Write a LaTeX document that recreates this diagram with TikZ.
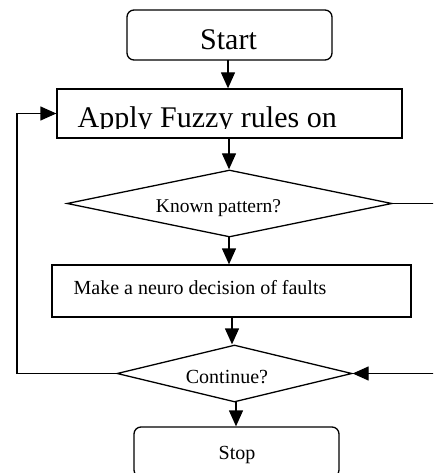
\documentclass[tikz,border=0pt]{standalone}
\usepackage{fontspec}
\setmainfont{Liberation Serif}
\usetikzlibrary{shapes.geometric,arrows.meta}
\begin{document}
\begin{tikzpicture}[x=1pt,y=-1pt,line width=1.3pt,
  box/.style={draw, rectangle, inner sep=0pt},
  term/.style={box, rounded corners=7pt},
  dia/.style={draw, diamond, inner sep=0pt, aspect=4.8},
  lbl/.style={inner sep=0pt, anchor=base},
  lblw/.style={inner sep=0pt, anchor=base west},
  big/.style={font=\fontsize{30}{36}\selectfont},
  small/.style={font=\fontsize{20}{24}\selectfont},
  arr/.style={-{Triangle[length=16pt,width=14pt]}}]
\useasboundingbox (0,0) rectangle (433,473);
\clip (0,0) rectangle (433,473);
% nodes
\node[term, minimum width=205pt, minimum height=50pt] (start) at (229.5,35) {};
\node[lbl, big] (startt) at (228.5,50) {Start};
\node[box, minimum width=345pt, minimum height=49pt] (apply) at (229.5,113.5) {};
\begin{scope}
  \clip (0,0) rectangle (433,129);
  \node[lblw, big] (applyt) at (77,128) {Apply Fuzzy rules on};
\end{scope}
\node[dia, minimum width=325pt, minimum height=67pt] (known) at (229.5,203.5) {};
\node[lbl, font=\fontsize{19.5}{23}\selectfont] (knownt) at (218.5,212) {Known pattern?};
\node[box, minimum width=359pt, minimum height=52pt] (make) at (231.5,291) {};
\node[lblw, small] (maket) at (73,294) {Make a neuro decision of faults};
\node[dia, minimum width=235pt, minimum height=57pt] (cont) at (234.5,373.5) {};
\node[lbl, small] (contt) at (227,383) {Continue?};
\node[term, minimum width=205pt, minimum height=50pt] (stop) at (236.5,452) {};
\node[lbl, small] (stopt) at (237,459) {Stop};
\coordinate (lx) at (17,0);
\coordinate (rx) at (445,0);
% connectors
\draw[arr] (228,60) coordinate (s1) -- (s1 |- apply.north);
\draw[arr] (229,138) coordinate (a1) -- (a1 |- known.north);
\draw[arr] (229,237) coordinate (k1) -- (k1 |- make.north);
\draw[arr] (232,317) coordinate (m1) -- (m1 |- cont.north);
\draw[arr] (236,402) coordinate (c1) -- (c1 |- stop.north);
\draw[arr] (cont.west) -- (cont.west -| lx) |- (apply.west);
\draw[arr] (known.east) -- (known.east -| rx) |- (cont.east);
\end{tikzpicture}
\end{document}
